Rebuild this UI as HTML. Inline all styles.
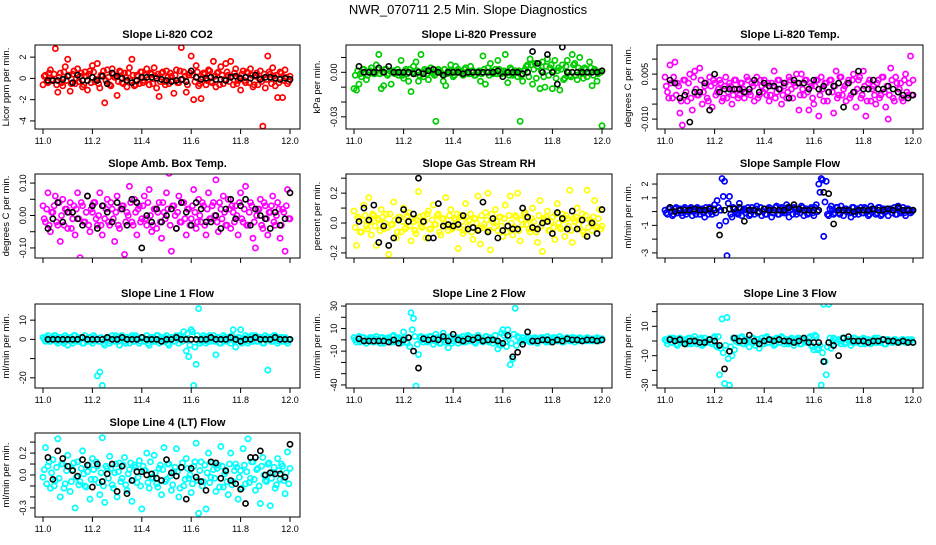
<!DOCTYPE html>
<html><head><meta charset="utf-8"><style>
html,body{margin:0;padding:0;background:#fff;}
svg text{font-family:"Liberation Sans",sans-serif;}
</style></head><body>
<svg id="chart" width="936" height="540" viewBox="0 0 936 540" xmlns="http://www.w3.org/2000/svg">
<rect width="936" height="540" fill="#fff"/>
<text x="468" y="14" font-size="13" text-anchor="middle">NWR_070711  2.5 Min. Slope Diagnostics</text>
</svg>
<script>
const tColor=[11.00,11.01,11.02,11.03,11.04,11.05,11.06,11.07,11.08,11.09,11.10,11.11,11.12,11.13,11.14,11.15,11.16,11.17,11.18,11.19,11.20,11.21,11.22,11.23,11.24,11.25,11.26,11.27,11.28,11.29,11.30,11.31,11.32,11.33,11.34,11.35,11.36,11.37,11.38,11.39,11.40,11.41,11.42,11.43,11.44,11.45,11.46,11.47,11.48,11.49,11.50,11.51,11.52,11.53,11.54,11.55,11.56,11.57,11.58,11.59,11.60,11.61,11.62,11.63,11.64,11.65,11.66,11.67,11.68,11.69,11.70,11.71,11.72,11.73,11.74,11.75,11.76,11.77,11.78,11.79,11.80,11.81,11.82,11.83,11.84,11.85,11.86,11.87,11.88,11.89,11.90,11.91,11.92,11.93,11.94,11.95,11.96,11.97,11.98,11.99,12.00];
const tColor2=[11.005,11.015,11.025,11.035,11.045,11.055,11.065,11.075,11.085,11.095,11.105,11.115,11.125,11.135,11.145,11.155,11.165,11.175,11.185,11.195,11.205,11.215,11.225,11.235,11.245,11.255,11.265,11.275,11.285,11.295,11.305,11.315,11.325,11.335,11.345,11.355,11.365,11.375,11.385,11.395,11.405,11.415,11.425,11.435,11.445,11.455,11.465,11.475,11.485,11.495,11.505,11.515,11.525,11.535,11.545,11.555,11.565,11.575,11.585,11.595,11.605,11.615,11.625,11.635,11.645,11.655,11.665,11.675,11.685,11.695,11.705,11.715,11.725,11.735,11.745,11.755,11.765,11.775,11.785,11.795,11.805,11.815,11.825,11.835,11.845,11.855,11.865,11.875,11.885,11.895,11.905,11.915,11.925,11.935,11.945,11.955,11.965,11.975,11.985,11.995];
const tBlack=[11.02,11.04,11.06,11.08,11.10,11.12,11.14,11.16,11.18,11.20,11.22,11.24,11.26,11.28,11.30,11.32,11.34,11.36,11.38,11.40,11.42,11.44,11.46,11.48,11.50,11.52,11.54,11.56,11.58,11.60,11.62,11.64,11.66,11.68,11.70,11.72,11.74,11.76,11.78,11.80,11.82,11.84,11.86,11.88,11.90,11.92,11.94,11.96,11.98,12.00];
const xTicks=[11.0,11.2,11.4,11.6,11.8,12.0];
const xTickLabels=["11.0","11.2","11.4","11.6","11.8","12.0"];

const co2Color=[-0.6,0.3,-0.4,0.8,-0.2,2.8,-1.3,0.5,-0.7,1.1,1.8,-1.2,0.4,-0.5,0.9,0.2,-0.8,0.6,-1.1,0.7,1.2,-0.3,1.4,-0.9,0.3,-2.3,0.8,-0.6,0.9,0.1,-1.6,0.7,-0.4,0.5,-0.8,1.0,1.8,-0.7,0.3,-0.5,0.6,-0.2,0.9,-0.6,0.4,1.0,-0.9,-1.7,0.5,-0.3,0.7,-0.5,0.2,-1.4,0.8,-0.4,2.9,0.6,-1.3,0.3,2.1,-2.0,1.2,-0.7,-1.9,0.5,-0.6,0.8,-0.3,1.6,-0.8,0.6,1.1,-0.5,1.4,0.3,1.6,-0.6,0.9,-0.2,-1.1,0.7,-0.4,0.5,0.9,-0.8,0.2,-0.6,0.7,-4.5,-0.9,2.1,0.4,1.0,-0.7,-1.8,0.6,-1.8,0.8,-0.5,0.2];
const co2Color2=[0.2,-0.3,0.5,-0.1,0.4,-0.6,0.1,-0.4,0.6,-0.2,0.3,-0.5,0.7,0.0,-0.3,0.5,-0.6,0.2,0.4,-0.4,0.6,-0.1,-0.5,0.3,0.7,-0.2,0.1,-0.7,0.4,0.2,-0.3,0.6,-0.5,0.1,0.5,-0.2,0.3,-0.6,0.2,0.6,-0.4,0.3,-0.1,0.5,-0.5,0.2,0.4,-0.3,0.6,-0.6,0.1,0.5,-0.2,0.3,-0.4,0.7,-0.1,0.2,-0.6,0.5,0.3,-0.3,0.6,-0.5,0.1,0.4,-0.2,0.7,-0.4,0.2,0.5,-0.6,0.3,-0.1,0.6,-0.3,0.2,0.5,-0.5,0.1,0.4,-0.2,0.6,-0.4,0.3,-0.6,0.5,0.0,-0.3,0.4,-0.1,0.6,-0.5,0.2,0.3,-0.4,0.5,-0.2,0.1,-0.3];
const co2Black=[-0.2,-0.2,-0.2,-0.1,0.2,-0.4,0.3,-0.2,-0.2,0.1,-0.2,0.2,-0.5,0.5,0.2,0.0,-0.2,-0.4,-0.2,0.1,0.1,0.1,0.0,-0.1,-0.2,-0.3,-0.2,-0.1,-0.3,0.7,0.1,-0.1,0.0,0.1,-0.1,-0.1,-0.2,0.1,0.2,0.0,0.1,0.0,0.3,-0.1,0.1,0.1,0.0,-0.1,0.0,-0.1];
const presColor=[-0.011,-0.012,-0.008,-0.003,0.002,-0.005,0,0.003,-0.001,0.005,0.012,-0.011,-0.009,0.002,-0.001,-0.008,0.001,0,-0.002,0.008,-0.004,0.002,-0.006,-0.013,0.004,0.007,-0.006,0.012,-0.003,0.001,-0.005,0.003,-0.001,-0.033,0.002,0,-0.006,-0.009,0.001,0.005,-0.003,0.004,0.002,0,-0.002,0.003,-0.001,0.004,0.001,-0.002,0,-0.006,0.011,-0.008,0.003,0.006,-0.001,0.002,0.008,-0.001,0,0.012,-0.007,0.003,-0.002,0.001,-0.003,-0.033,-0.006,0.002,0.005,0.009,-0.008,0.006,0.004,-0.011,0.007,-0.010,0.009,0.003,-0.011,0.008,0.001,-0.012,0.005,-0.004,0.008,-0.002,0.012,0.006,-0.005,0.010,-0.001,0.003,-0.003,0.007,-0.009,0.002,-0.006,0,-0.036];
const presColor2=[-0.002,0.001,-0.001,0.002,0,-0.002,0.001,0,-0.001,0.002,-0.001,0,0.002,-0.002,0.001,0,-0.001,0.002,0,-0.002,0.001,-0.001,0.002,0,-0.001,0.001,-0.002,0,0.002,-0.001,0.001,0,-0.002,0.001,0,-0.001,0.002,-0.001,0,0.001,-0.002,0.001,0,-0.001,0.002,0,-0.001,0.001,-0.002,0,0.001,-0.001,0.002,0,-0.002,0.001,0,-0.001,0.002,-0.001,0.001,0,-0.002,0.002,-0.001,0,0.001,-0.002,0.001,0.004,-0.003,0.005,0.002,-0.004,0.006,0.001,-0.003,0.004,-0.002,0.005,0.001,-0.004,0.003,0.002,-0.005,0.004,0,-0.003,0.005,-0.002,0.003,0.001,-0.004,0.002,0,0.003,-0.002,0.001,-0.001,0];
const presBlack=[0.004,0,0,0,0.003,0,0.004,0,0,0,0,-0.001,0,-0.001,0.001,0.002,0,-0.002,0,0,0,-0.001,0,0,0,0,0,0,0.001,-0.003,0,0,0,-0.001,0,0.014,0.006,0,0.012,0,-0.008,0.017,0,0,0,0,0,0,0,0.001];
const tempColor=[0.004,-0.001,0.008,-0.003,0.009,0.002,-0.008,-0.012,0.003,-0.004,0.005,-0.007,0.006,-0.002,0.007,-0.005,0.001,-0.003,0.004,-0.006,0.002,-0.001,0.003,-0.004,0.001,-0.003,0.002,-0.005,0.003,0,-0.002,0.002,-0.003,0.004,-0.001,0.002,-0.004,0.004,-0.002,0.001,0.003,-0.002,-0.004,0.002,0.006,-0.001,0.003,-0.005,0.001,-0.003,0.004,0,0.002,0.005,-0.007,0.005,-0.002,0.003,-0.007,0.001,-0.005,0.003,-0.009,0.004,-0.004,0.002,-0.001,0.003,-0.008,0.006,-0.002,0.004,0,-0.004,0.003,-0.002,0.005,-0.006,0.003,-0.003,0.006,-0.009,0.002,-0.004,0.001,-0.005,0.003,-0.002,0.004,-0.006,-0.010,0.007,-0.003,0.004,-0.001,0.002,-0.004,0.005,-0.002,0.011,0.003];
const tempColor2=[0.001,-0.003,0.002,0.004,-0.002,0.001,-0.004,0.003,-0.001,0.002,-0.003,0.004,0,-0.002,0.003,-0.001,0.002,-0.004,0.001,0.003,-0.002,0,0.002,-0.003,0.004,-0.001,0.001,-0.002,0.003,-0.003,0.002,0,-0.001,0.003,-0.002,0.001,0.002,-0.003,0.003,-0.001,0,0.002,-0.002,0.001,-0.003,0.003,0,-0.002,0.002,-0.001,0.003,-0.003,0.001,0.002,-0.002,0,0.003,-0.001,0.002,-0.003,0.001,0.003,-0.002,0,0.002,-0.004,0.003,-0.001,0.001,-0.003,0.004,-0.002,0.001,0.002,-0.003,0.003,-0.001,0,0.004,-0.002,0.001,-0.004,0.003,0,-0.002,0.002,-0.003,0.004,-0.001,0.001,-0.002,0.003,-0.004,0.002,0,-0.003,0.003,-0.001,0.002,-0.002];
const tempBlack=[0.003,0.002,-0.003,-0.002,-0.011,-0.001,-0.001,0.002,-0.007,0.005,-0.001,0,0,0,0,-0.001,0,0.003,-0.001,0.002,0.001,0.001,0,0.002,-0.003,0.003,0.002,0.002,0,0.003,0,0.001,-0.001,0.001,0.002,-0.006,0.002,-0.001,0.006,0,0,0.003,0,0,0.001,0,-0.001,-0.002,-0.003,-0.002];
const ambColor=[0.03,-0.02,0.07,-0.05,0.01,0.06,-0.03,-0.08,0.05,0.02,-0.04,0.04,-0.01,-0.06,0.07,-0.13,0.03,-0.02,0.06,-0.05,0.01,0.04,-0.03,0.07,-0.06,-0.01,0.05,-0.03,0.02,-0.08,0.06,-0.04,0.03,-0.12,0.01,0.09,-0.02,0.05,-0.06,0.03,-0.01,0.06,-0.03,0.08,-0.05,0.02,-0.04,0.04,-0.07,0.01,0.07,0.13,-0.11,0.03,-0.04,0.06,-0.02,0.04,-0.06,0.02,-0.01,0.08,-0.04,0.05,-0.02,0.03,-0.06,0.07,-0.01,0.04,0.11,-0.05,0.02,0.06,-0.03,0.05,-0.04,0.01,0.03,-0.06,0.07,-0.02,0.09,-0.03,0.04,-0.07,-0.10,0.02,0.05,-0.04,0.03,-0.06,0.01,0.06,-0.03,0.04,-0.07,0.02,-0.11,0.08,-0.01];
const ambColor2=[-0.01,0.02,-0.03,0.01,0.03,-0.02,0.04,0.00,-0.03,0.02,0.01,-0.04,0.03,0.02,-0.01,0.04,-0.02,0.01,-0.03,0.02,0.04,-0.01,0.00,-0.03,0.03,0.02,-0.02,0.04,-0.01,0.01,-0.03,0.02,0.03,-0.02,0.00,0.04,-0.03,0.01,0.02,-0.02,0.03,-0.01,0.04,0.00,-0.03,0.02,0.01,-0.02,0.04,-0.01,0.02,-0.03,0.03,0.00,0.01,-0.02,0.04,-0.01,0.02,-0.03,0.03,0.01,-0.02,0.00,0.04,-0.03,0.02,-0.01,0.03,0.00,-0.02,0.04,-0.01,0.01,-0.03,0.02,0.03,-0.02,0.00,0.04,-0.01,0.02,-0.03,0.01,0.03,-0.02,0.00,0.02,-0.03,0.04,-0.01,0.01,0.03,-0.02,0.00,0.02,-0.03,0.01,0.03,-0.01];
const ambBlack=[-0.04,-0.01,0.04,-0.02,0.01,0.01,-0.01,-0.03,0.06,0.03,-0.04,0.03,0.01,-0.02,0.04,0.02,-0.03,0.05,0.04,-0.10,0,-0.02,0.02,-0.02,0,0.02,-0.04,0.04,0.01,-0.03,0.04,0.02,-0.02,-0.02,0,-0.04,0.02,0.05,-0.01,0.03,0.05,-0.03,0.02,0,-0.01,-0.04,0.01,-0.03,-0.01,0.07];
const rhColor=[0.08,-0.15,0.03,-0.06,0.12,-0.02,0.17,-0.08,0.05,-0.15,0.02,0.09,-0.04,0.06,-0.21,-0.01,0.14,-0.10,0.04,-0.06,0.10,-0.03,0.07,-0.12,0.01,-0.07,0.21,-0.02,0.05,-0.10,0.08,-0.04,0.12,-0.01,0.06,-0.08,0.03,0.17,-0.05,0.09,-0.03,0.02,-0.17,0.05,-0.07,0.13,-0.02,0.06,-0.11,0.03,0.18,-0.14,-0.03,0.07,0.20,-0.18,0.01,0.09,-0.05,0.04,-0.09,0.12,-0.02,0.18,-0.08,0.05,0.20,-0.12,-0.01,0.07,0.03,-0.06,0.10,-0.04,-0.13,0.15,-0.19,0.02,0.08,-0.05,0.04,-0.11,0.13,-0.03,0.06,-0.09,0.03,0.22,-0.13,0.01,0.10,-0.04,0.06,-0.08,0.22,0.02,-0.05,0.15,-0.03,0.09,-0.02];
const rhColor2=[-0.03,0.04,-0.06,0.02,0.05,-0.04,0.01,0.06,-0.02,0.03,-0.05,0.04,0.00,-0.03,0.06,-0.01,0.02,-0.06,0.04,0.01,-0.04,0.05,-0.02,0.03,-0.05,0.02,0.04,-0.03,0.01,0.06,-0.04,0.02,-0.01,0.05,-0.06,0.03,0.00,-0.02,0.05,-0.04,0.03,0.06,-0.03,0.01,-0.05,0.04,0.02,-0.06,0.03,0.00,-0.04,0.05,-0.01,0.02,-0.05,0.06,-0.03,0.01,0.04,-0.02,0.03,-0.06,0.05,0.00,-0.03,0.04,-0.05,0.02,0.06,-0.01,-0.04,0.03,0.01,-0.06,0.05,-0.02,0.03,0.04,-0.05,0.01,-0.03,0.06,0.00,-0.04,0.02,0.05,-0.02,-0.05,0.03,0.04,-0.01,0.02,-0.06,0.05,-0.03,0.01,0.04,-0.02,0.03,-0.04];
const rhBlack=[0.01,0.10,0.02,0.12,-0.13,-0.02,-0.15,-0.10,0.02,0.09,0.01,0.06,0.30,0.01,-0.10,-0.10,0.13,-0.02,-0.01,-0.02,-0.01,0.05,-0.04,-0.03,-0.05,0.14,-0.06,0.03,-0.10,-0.05,-0.02,-0.04,-0.04,0.10,0.04,-0.03,-0.04,0,0.01,-0.07,0.07,0.03,-0.04,0.08,-0.04,0.02,-0.09,0,-0.07,0.09];
const sampleColor=[0.1,-0.2,0.3,-0.3,0.2,-0.1,0.2,-0.3,0.3,0,0.2,-0.3,0.1,0.3,-0.2,0.2,-0.4,0.1,0.3,-0.2,0.5,0.8,-1.0,2.4,2.2,-3.2,1.1,-0.4,0.2,-0.1,0.6,-0.3,0.2,0.1,-0.3,0.3,-0.2,0.4,0,-0.3,0.2,-0.2,0.3,-0.4,0.1,0.4,-0.2,0.3,-0.1,0.5,-0.4,0.2,0.3,-0.2,0.1,0.4,-0.3,0.2,-0.1,0.3,-0.3,0.5,2.0,2.4,-1.8,2.2,-0.3,0.4,-0.2,0.3,-0.1,0.4,-0.3,0.2,0.1,-0.4,0.3,0,-0.2,0.3,-0.1,0.2,-0.3,0.4,0.1,-0.2,0.3,-0.3,0.2,0,-0.3,0.2,0.1,-0.2,0.4,-0.1,0.3,-0.3,0.2,-0.1,0.1];
const sampleColor2=[-0.1,0.2,0,-0.2,0.3,0.1,-0.1,0.2,-0.2,0.1,0.3,0,-0.2,0.2,0.1,-0.1,0.3,-0.2,0,0.2,-0.1,0.3,0.1,1.1,-0.7,0.6,-0.2,0.3,0,-0.2,0.2,0.1,-0.1,0.3,-0.2,0.1,0.2,-0.1,0.3,0,-0.2,0.2,0.1,-0.1,0.3,-0.2,0.2,0,-0.1,0.3,0.1,-0.2,0.2,0,-0.1,0.3,0.1,-0.2,0.2,-0.1,0.3,0,1.4,2.3,0.7,-0.2,0.2,0.1,-0.1,0.3,-0.2,0.1,0.2,0,-0.1,0.3,-0.2,0.2,0.1,-0.1,0.3,0,-0.2,0.2,0.1,-0.1,0.3,-0.2,0,0.2,0.1,-0.1,0.3,-0.2,0.2,0,-0.1,0.2,0.1,0];
const sampleBlack=[0.3,0,0.1,0.1,0.1,0.2,0.1,0.1,0.2,0.1,-1.7,0.1,0.2,0.2,0.3,-0.7,0.1,0.1,0,0.2,0.1,0.1,0.1,0.1,0.3,0.5,0.2,0.1,0.1,0.1,0.1,1.4,1.3,-0.9,0.1,0.1,0.1,0,0.1,0.1,0.1,0.2,0.1,0.1,0.2,0.1,0.3,0.1,0.1,0.1];
const line1Color=[1,-1,2,-1,1,2,-2,1,-1,2,-3,1,-2,2,-1,1,-2,2,-1,1,-2,1,-19,-17,-24,-3,1,-2,2,-1,1,-3,2,-1,1,-2,2,-1,1,-2,1,-1,2,-3,1,-1,2,-2,1,-1,2,-3,1,-1,2,-2,1,4,-6,-9,5,-24,-13,16,-1,2,-2,1,-1,2,-8,1,-2,2,-1,1,-2,5,-4,1,5,-1,2,-2,1,-1,2,-1,1,-2,2,-16,1,-1,2,-2,1,-1,1,-2,0];
const line1Color2=[0,1,-1,0,2,-1,1,0,-2,1,0,-1,2,0,-1,1,-2,0,1,-1,2,0,-1,1,-2,0,1,-1,0,2,-1,0,1,-2,0,1,-1,2,0,-1,1,0,-2,1,0,-1,2,-1,0,1,-2,0,1,-1,0,2,-1,0,3,-3,4,-4,2,-2,0,1,-1,2,0,-1,1,-2,0,1,-1,0,2,-1,0,1,-2,0,1,-1,2,0,-1,1,0,-2,1,0,-1,2,0,-1,1,0,-1,0];
const line1Black=[0,0,0,0,0,0,0,1,0,0,0,0,1,0,0,1,0,0,0,1,0,0,0,-1,0,0,1,0,0,0,0,0,0,1,0,0,0,1,0,-1,0,0,1,0,0,0,1,0,0,0];
const line2Color=[2,-2,3,-1,2,-3,1,2,-2,3,-1,2,-3,1,2,-2,4,-1,2,-3,7,-2,2,24,19,-41,-13,3,-2,2,-1,3,-4,5,2,-3,6,-2,-7,3,-1,2,-3,1,3,-2,4,-1,2,-3,4,1,-2,3,-1,2,-3,4,-8,-5,9,-2,9,-22,-17,28,3,-2,2,-1,3,-2,1,2,-3,1,2,-1,3,-2,1,2,-1,3,-2,1,2,-1,2,-2,1,2,-1,1,2,-1,1,0,2,-1,1];
const line2Color2=[0,1,-2,2,-1,0,2,-2,1,0,-3,2,1,-1,0,3,-2,1,0,-1,2,-3,-6,9,3,-4,2,0,1,-2,3,0,-1,2,-3,1,0,2,-1,-3,1,0,2,-2,1,-1,3,0,-2,1,2,-1,0,3,-2,1,0,-1,-4,6,4,-6,3,-3,5,-5,2,0,-1,1,2,-2,0,1,-1,2,0,-2,1,0,2,-1,0,1,-2,1,0,-1,2,0,-1,1,0,-1,1,0,-1,1,0,0];
const line2Black=[1,-1,-1,-1,-1,-1,-2,0,-3,0,2,-10,-25,1,0,1,0,3,-1,5,0,-1,1,0,2,-1,0,0,-1,-3,4,-15,-11,-4,7,-1,-1,0,0,-2,0,-1,1,0,0,-1,0,0,-1,0];
const line3Color=[1,-2,2,-1,1,-3,2,-1,1,-2,2,-1,3,-2,1,-3,2,-1,1,-2,3,-4,-23,15,-29,16,-30,-10,-6,2,-1,3,-2,1,-4,2,-1,1,-5,2,-2,3,-1,1,-3,2,-1,3,-2,1,-1,2,-3,1,2,-2,1,-1,2,-3,-6,3,-5,-30,25,-23,25,-5,2,-1,1,-2,2,-1,1,-3,2,-1,1,-2,2,-1,1,-2,1,-1,2,-1,1,-2,1,0,-1,1,-1,0,1,-1,1,0,-1];
const line3Color2=[0,1,-1,2,-2,0,1,-1,0,2,-2,1,0,-1,2,-2,0,1,-1,2,-3,3,-5,-8,-3,-12,-4,2,0,-1,2,-2,1,0,-1,2,-3,1,0,-2,2,-1,1,0,-2,1,-1,2,0,-2,1,0,-1,2,-2,1,0,-1,3,-4,4,-6,-3,-8,-14,-4,2,0,1,-1,0,2,-2,1,0,-1,2,-1,0,1,-2,1,0,-1,2,-1,0,1,-2,1,0,-1,1,0,-1,1,0,-1,0,1];
const line3Black=[1,0,1,-2,0,0,-1,-1,1,0,-3,-19,-7,2,0,0,4,0,-2,0,1,0,1,0,0,-1,0,2,-1,-1,-1,-14,-1,-3,-10,2,3,0,0,0,-1,0,0,1,0,0,-1,0,-1,-1];
const line4Color=[-0.02,0.25,0.08,-0.12,0.14,-0.05,0.33,-0.20,0.10,-0.08,0.18,-0.15,0.05,-0.30,0.12,-0.06,0.22,-0.10,0.03,-0.22,0.15,-0.04,0.08,-0.18,0.34,-0.25,0.06,0.17,-0.09,0.02,-0.20,0.11,-0.03,0.16,-0.14,0.05,-0.24,0.09,-0.07,0.13,-0.31,0.04,0.20,-0.12,-0.02,0.18,-0.08,0.06,-0.18,0.25,-0.04,0.10,-0.14,0.03,0.24,-0.20,0.07,-0.10,0.15,-0.03,-0.16,0.08,0.29,-0.35,0.12,-0.06,-0.31,0.20,-0.02,0.05,-0.15,0.09,0.26,-0.11,0.03,-0.18,0.20,-0.06,0.10,-0.22,0.04,0.24,-0.08,0.33,-0.03,0.12,-0.14,0.06,-0.26,0.16,-0.05,0.10,-0.28,0.02,-0.12,0.15,-0.04,0.08,-0.17,0.21,0.06];
const line4Color2=[0.05,-0.08,0.12,0.02,-0.10,0.07,-0.03,0.10,-0.12,0.04,0.08,-0.06,0.11,-0.02,-0.09,0.06,0.01,-0.11,0.09,-0.04,0.05,0.12,-0.07,0.02,-0.10,0.08,-0.03,0.06,-0.12,0.10,0.03,-0.06,0.09,-0.09,0.01,0.11,-0.05,0.07,-0.02,-0.10,0.08,0.04,-0.07,0.12,-0.03,0.02,-0.11,0.09,0.05,-0.06,0.10,-0.01,-0.09,0.07,0.03,-0.12,0.11,-0.04,0.06,0.00,-0.08,0.12,-0.05,0.04,-0.10,0.09,0.02,-0.07,0.11,-0.03,0.06,-0.11,0.08,0.01,-0.06,0.10,-0.09,0.04,0.07,-0.02,-0.12,0.09,0.03,-0.07,0.12,-0.04,0.05,-0.10,0.08,0.00,-0.06,0.11,-0.03,0.07,-0.09,0.04,0.10,-0.05,0.02,-0.08];
const line4Black=[0.16,-0.04,0.22,0.15,0.08,0.04,-0.01,0.14,0.09,-0.11,0.10,-0.06,0.01,0.10,-0.15,0.08,-0.17,-0.05,0.03,0.03,0,0.01,-0.03,-0.05,0.14,0.02,-0.01,0.07,-0.22,0.06,-0.02,-0.06,-0.14,0.12,0.11,-0.03,0.04,-0.05,-0.08,-0.13,-0.26,0.16,0.16,0.22,0,0.02,0.01,0.01,-0.02,0.28];

const svg=document.getElementById('chart');
const NS='http://www.w3.org/2000/svg';
function mk(tag,attrs,parent){const e=document.createElementNS(NS,tag);for(const k in attrs)e.setAttribute(k,attrs[k]);(parent||svg).appendChild(e);return e;}

const cols=[{l:35,r:300},{l:346,r:612},{l:657,r:923}];
const rows=[{t:45,b:129},{t:174,b:258},{t:304,b:388},{t:433,b:517}];

const panels=[
 {name:'co2',title:'Slope Li-820 CO2',yt:'Licor ppm per min.',c:0,r:0,ymin:-4.76,ymax:3.14,ticks:[-4,-2,0,2],labels:['-4','-2','0','2'],color:'#ff0000',cd:co2Color,cd2:co2Color2,bd:co2Black,xl:true},
 {name:'pressure',title:'Slope Li-820 Pressure',yt:'kPa per min.',c:1,r:0,ymin:-0.0382,ymax:0.0184,ticks:[-0.03,-0.02,-0.01,0,0.01],labels:['-0.03','','','0.00',''],color:'#00cc00',cd:presColor,cd2:presColor2,bd:presBlack,xl:true},
 {name:'licor-temp',title:'Slope Li-820 Temp.',yt:'degrees C per min.',c:2,r:0,ymin:-0.0133,ymax:0.0147,ticks:[-0.010,-0.005,0,0.005,0.010],labels:['-0.010','','','0.005',''],color:'#ff00ff',cd:tempColor,cd2:tempColor2,bd:tempBlack,xl:true},
 {name:'amb-box-temp',title:'Slope Amb. Box Temp.',yt:'degrees C per min.',c:0,r:1,ymin:-0.131,ymax:0.128,ticks:[-0.10,-0.05,0,0.05,0.10],labels:['-0.10','','0.00','','0.10'],color:'#ff00ff',cd:ambColor,cd2:ambColor2,bd:ambBlack,xl:false},
 {name:'gas-rh',title:'Slope Gas Stream RH',yt:'percent per min.',c:1,r:1,ymin:-0.234,ymax:0.328,ticks:[-0.2,-0.1,0,0.1,0.2,0.3],labels:['-0.2','','0.0','','0.2',''],color:'#ffff00',cd:rhColor,cd2:rhColor2,bd:rhBlack,xl:false},
 {name:'sample-flow',title:'Slope Sample Flow',yt:'ml/min per min.',c:2,r:1,ymin:-3.37,ymax:2.73,ticks:[-3,-2,-1,0,1,2],labels:['-3','','-1','','1','2'],color:'#0000ff',cd:sampleColor,cd2:sampleColor2,bd:sampleBlack,xl:false},
 {name:'line1-flow',title:'Slope Line 1 Flow',yt:'ml/min per min.',c:0,r:2,ymin:-25.3,ymax:18.4,ticks:[-20,-10,0,10],labels:['-20','','0','10'],color:'#00ffff',cd:line1Color,cd2:line1Color2,bd:line1Black,xl:true},
 {name:'line2-flow',title:'Slope Line 2 Flow',yt:'ml/min per min.',c:1,r:2,ymin:-42.7,ymax:31.8,ticks:[-40,-30,-20,-10,0,10,20,30],labels:['-40','','','-10','','10','','30'],color:'#00ffff',cd:line2Color,cd2:line2Color2,bd:line2Black,xl:true},
 {name:'line3-flow',title:'Slope Line 3 Flow',yt:'ml/min per min.',c:2,r:2,ymin:-32,ymax:25.2,ticks:[-30,-20,-10,0,10,20],labels:['-30','','-10','','10',''],color:'#00ffff',cd:line3Color,cd2:line3Color2,bd:line3Black,xl:true},
 {name:'line4-flow',title:'Slope Line 4 (LT) Flow',yt:'ml/min per min.',c:0,r:3,ymin:-0.383,ymax:0.383,ticks:[-0.3,-0.2,-0.1,0,0.1,0.2,0.3],labels:['-0.3','','','0.0','','0.2',''],color:'#00ffff',cd:line4Color,cd2:line4Color2,bd:line4Black,xl:true}
];

panels.forEach(p=>{
 const C=cols[p.c],R=rows[p.r];
 const x0=C.l+8,x1=C.r-10;
 const xs=v=>x0+(v-11)*(x1-x0);
 const ys=v=>R.t+(p.ymax-v)/(p.ymax-p.ymin)*(R.b-R.t);
 const g=mk('g',{});
 
 
 const clip=mk('clipPath',{id:'clip-'+p.name},g);
 mk('rect',{x:C.l,y:R.t,width:C.r-C.l,height:R.b-R.t},clip);
 const ttl=mk('text',{x:(C.l+C.r)/2,y:R.t-7,'font-size':11,'font-weight':'bold','text-anchor':'middle'},g);
 ttl.textContent=p.title;
 
 
 const yt=mk('text',{x:0,y:0,'font-size':9.5,'text-anchor':'middle',transform:`translate(${C.l-26},${(R.t+R.b)/2}) rotate(-90)`},g);
 yt.textContent=p.yt;
 
 
 const pts=mk('g',{'clip-path':`url(#clip-${p.name})`},g);
 
 
 p.cd.forEach((v,i)=>{
  const c=mk('circle',{cx:xs(tColor[i]),cy:ys(v),r:2.6,fill:'none',stroke:p.color,'stroke-width':1.7},pts);
  
  
 });
 p.cd2.forEach((v,i)=>{
  const c=mk('circle',{cx:xs(tColor2[i]),cy:ys(v),r:2.6,fill:'none',stroke:p.color,'stroke-width':1.7},pts);
  
  
 });
 p.bd.forEach((v,i)=>{
  const c=mk('circle',{cx:xs(tBlack[i]),cy:ys(v),r:2.6,fill:'none',stroke:'#000','stroke-width':1.6},pts);
  
  
 });
 const fr=mk('rect',{x:C.l,y:R.t,width:C.r-C.l,height:R.b-R.t,fill:'none',stroke:'#000','stroke-width':1},g);
 
 
 p.ticks.forEach((v,i)=>{
  const y=ys(v);
  mk('line',{x1:C.l-5,x2:C.l,y1:y,y2:y,stroke:'#000'},g);
  if(p.labels[i]){
   const t=mk('text',{x:0,y:0,'font-size':9,'text-anchor':'middle',transform:`translate(${C.l-9},${y}) rotate(-90)`},g);
   t.textContent=p.labels[i];
   
   
  }
 });
 xTicks.forEach((v,i)=>{
  const x=xs(v);
  mk('line',{x1:x,x2:x,y1:R.b,y2:R.b+5,stroke:'#000'},g);
  if(p.xl){
   const t=mk('text',{x:x,y:R.b+15,'font-size':9,'text-anchor':'middle'},g);
   t.textContent=xTickLabels[i];
   
   
  }
 });
});
</script>
</body></html>
